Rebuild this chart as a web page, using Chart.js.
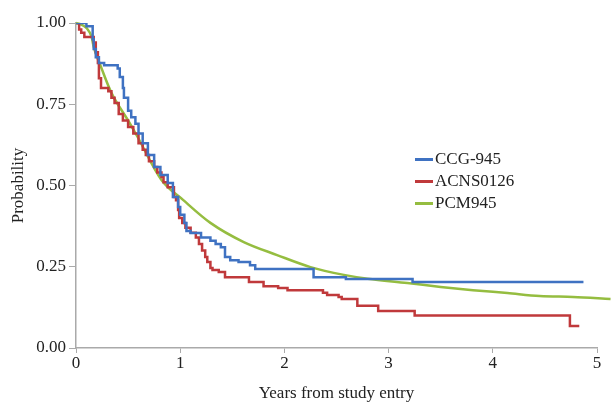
<!DOCTYPE html>
<html>
<head>
<meta charset="utf-8">
<script src="https://cdn.jsdelivr.net/npm/chart.js@4"></script>
<style>
    body { margin: 0; background: #fff; }
    #wrap { position: relative; width: 611px; height: 404px; }
    #legend { position: absolute; left: 415px; top: 148px; font: 17px "Liberation Serif", serif; color: #222; }
    .item { display: flex; align-items: center; height: 22px; }
    .swatch { width: 18px; height: 3px; margin-right: 2px; }
</style>
</head>
<body>
<div id="wrap">
    <canvas id="chart" width="611" height="404"></canvas>
    <div id="legend"></div>
</div>
<script>
// Kaplan-Meier steps: time (years) and survival after the drop
const ccgTimes = [0, 0.10, 0.16, 0.17, 0.19, 0.22, 0.27, 0.40, 0.42, 0.45, 0.46, 0.50, 0.53, 0.57, 0.60, 0.64, 0.69, 0.75, 0.81, 0.88, 0.93, 0.98, 1.00, 1.04, 1.06, 1.10, 1.20, 1.29, 1.34, 1.39, 1.43, 1.48, 1.56, 1.67, 1.72, 2.28, 2.59, 3.23, 4.87];
const ccgSurv  = [1.00, 0.99, 0.95, 0.92, 0.895, 0.877, 0.87, 0.86, 0.834, 0.80, 0.77, 0.73, 0.71, 0.69, 0.66, 0.63, 0.594, 0.557, 0.532, 0.508, 0.465, 0.434, 0.41, 0.385, 0.36, 0.354, 0.34, 0.33, 0.32, 0.31, 0.28, 0.27, 0.265, 0.255, 0.243, 0.218, 0.212, 0.203, 0.203];

const acnsTimes = [0, 0.03, 0.05, 0.08, 0.17, 0.19, 0.21, 0.22, 0.24, 0.31, 0.34, 0.37, 0.41, 0.45, 0.50, 0.55, 0.60, 0.64, 0.67, 0.70, 0.75, 0.78, 0.82, 0.84, 0.88, 0.94, 0.96, 0.98, 0.99, 1.02, 1.05, 1.10, 1.15, 1.18, 1.21, 1.24, 1.26, 1.29, 1.31, 1.37, 1.43, 1.66, 1.80, 1.94, 2.03, 2.37, 2.41, 2.52, 2.55, 2.70, 2.90, 3.25, 4.74, 4.83];
const acnsSurv  = [1.00, 0.98, 0.97, 0.957, 0.94, 0.91, 0.877, 0.83, 0.80, 0.79, 0.77, 0.754, 0.72, 0.70, 0.68, 0.66, 0.63, 0.61, 0.594, 0.575, 0.557, 0.54, 0.526, 0.51, 0.495, 0.465, 0.455, 0.425, 0.40, 0.385, 0.37, 0.355, 0.34, 0.32, 0.30, 0.28, 0.265, 0.246, 0.24, 0.234, 0.218, 0.203, 0.19, 0.185, 0.178, 0.17, 0.163, 0.157, 0.151, 0.13, 0.114, 0.10, 0.068, 0.068];

// smooth model curve
const pcmTimes = [0, 0.05, 0.10, 0.15, 0.17, 0.24, 0.34, 0.50, 0.59, 0.82, 1.03, 1.29, 1.61, 1.93, 2.25, 2.57, 2.80, 3.18, 3.50, 3.81, 4.14, 4.45, 4.77, 5.13];
const pcmSurv  = [1.00, 0.995, 0.985, 0.957, 0.926, 0.865, 0.785, 0.70, 0.65, 0.517, 0.455, 0.385, 0.326, 0.286, 0.249, 0.225, 0.213, 0.20, 0.188, 0.178, 0.169, 0.16, 0.157, 0.151];

const seriesNames = ["CCG-945", "ACNS0126", "PCM945"];
const seriesColors = ["#3f72c2", "#c0393b", "#95bd40"];
const yTicks = [0, 0.25, 0.5, 0.75, 1];

function toPoints(xs, ys) {
    return xs.map((x, i) => ({ x: x, y: ys[i] }));
}

const serif = "'Liberation Serif', 'Times New Roman', serif";

const chart = new Chart(document.getElementById("chart"), {
    type: "line",
    data: {
        datasets: [
            { label: seriesNames[0], data: toPoints(ccgTimes, ccgSurv), borderColor: seriesColors[0], stepped: "before", borderWidth: 2.5, pointRadius: 0 },
            { label: seriesNames[1], data: toPoints(acnsTimes, acnsSurv), borderColor: seriesColors[1], stepped: "before", borderWidth: 2.5, pointRadius: 0 },
            { label: seriesNames[2], data: toPoints(pcmTimes, pcmSurv), borderColor: seriesColors[2], cubicInterpolationMode: "monotone", borderWidth: 2.5, pointRadius: 0, clip: false }
        ]
    },
    options: {
        responsive: false,
        animation: false,
        layout: { padding: { top: 23, right: 14, left: 0, bottom: 0 } },
        plugins: { legend: { display: false }, tooltip: { enabled: false } },
        scales: {
            x: {
                type: "linear", min: 0, max: 5,
                ticks: { stepSize: 1, color: "#222", font: { family: serif, size: 17 }, padding: 0 },
                grid: { drawOnChartArea: false, tickLength: 5, color: "#aaa" },
                border: { color: "#aaa", width: 1.5 },
                title: { display: true, text: "Years from study entry", color: "#222", font: { family: serif, size: 17 }, padding: { top: 7, bottom: 0 } },
                afterFit: s => { s.height = 56; }
            },
            y: {
                min: 0, max: 1,
                afterBuildTicks: s => { s.ticks = yTicks.map(v => ({ value: v })); },
                ticks: { color: "#222", font: { family: serif, size: 17 }, padding: 3, callback: v => v.toFixed(2) },
                grid: { drawOnChartArea: false, tickLength: 7, color: "#aaa" },
                border: { color: "#aaa", width: 1.5 },
                title: { display: true, text: "Probability", color: "#222", font: { family: serif, size: 17 }, padding: { top: 8, bottom: 4 } },
                afterFit: s => { s.width = 76; }
            }
        }
    }
});

// legend as html, built from the datasets
const legend = document.getElementById("legend");
chart.data.datasets.forEach(ds => {
    const row = document.createElement("div");
    row.className = "item";
    row.innerHTML = `<span class="swatch" style="background:${ds.borderColor}"></span><span>${ds.label}</span>`;
    legend.appendChild(row);
});
</script>
</body>
</html>
